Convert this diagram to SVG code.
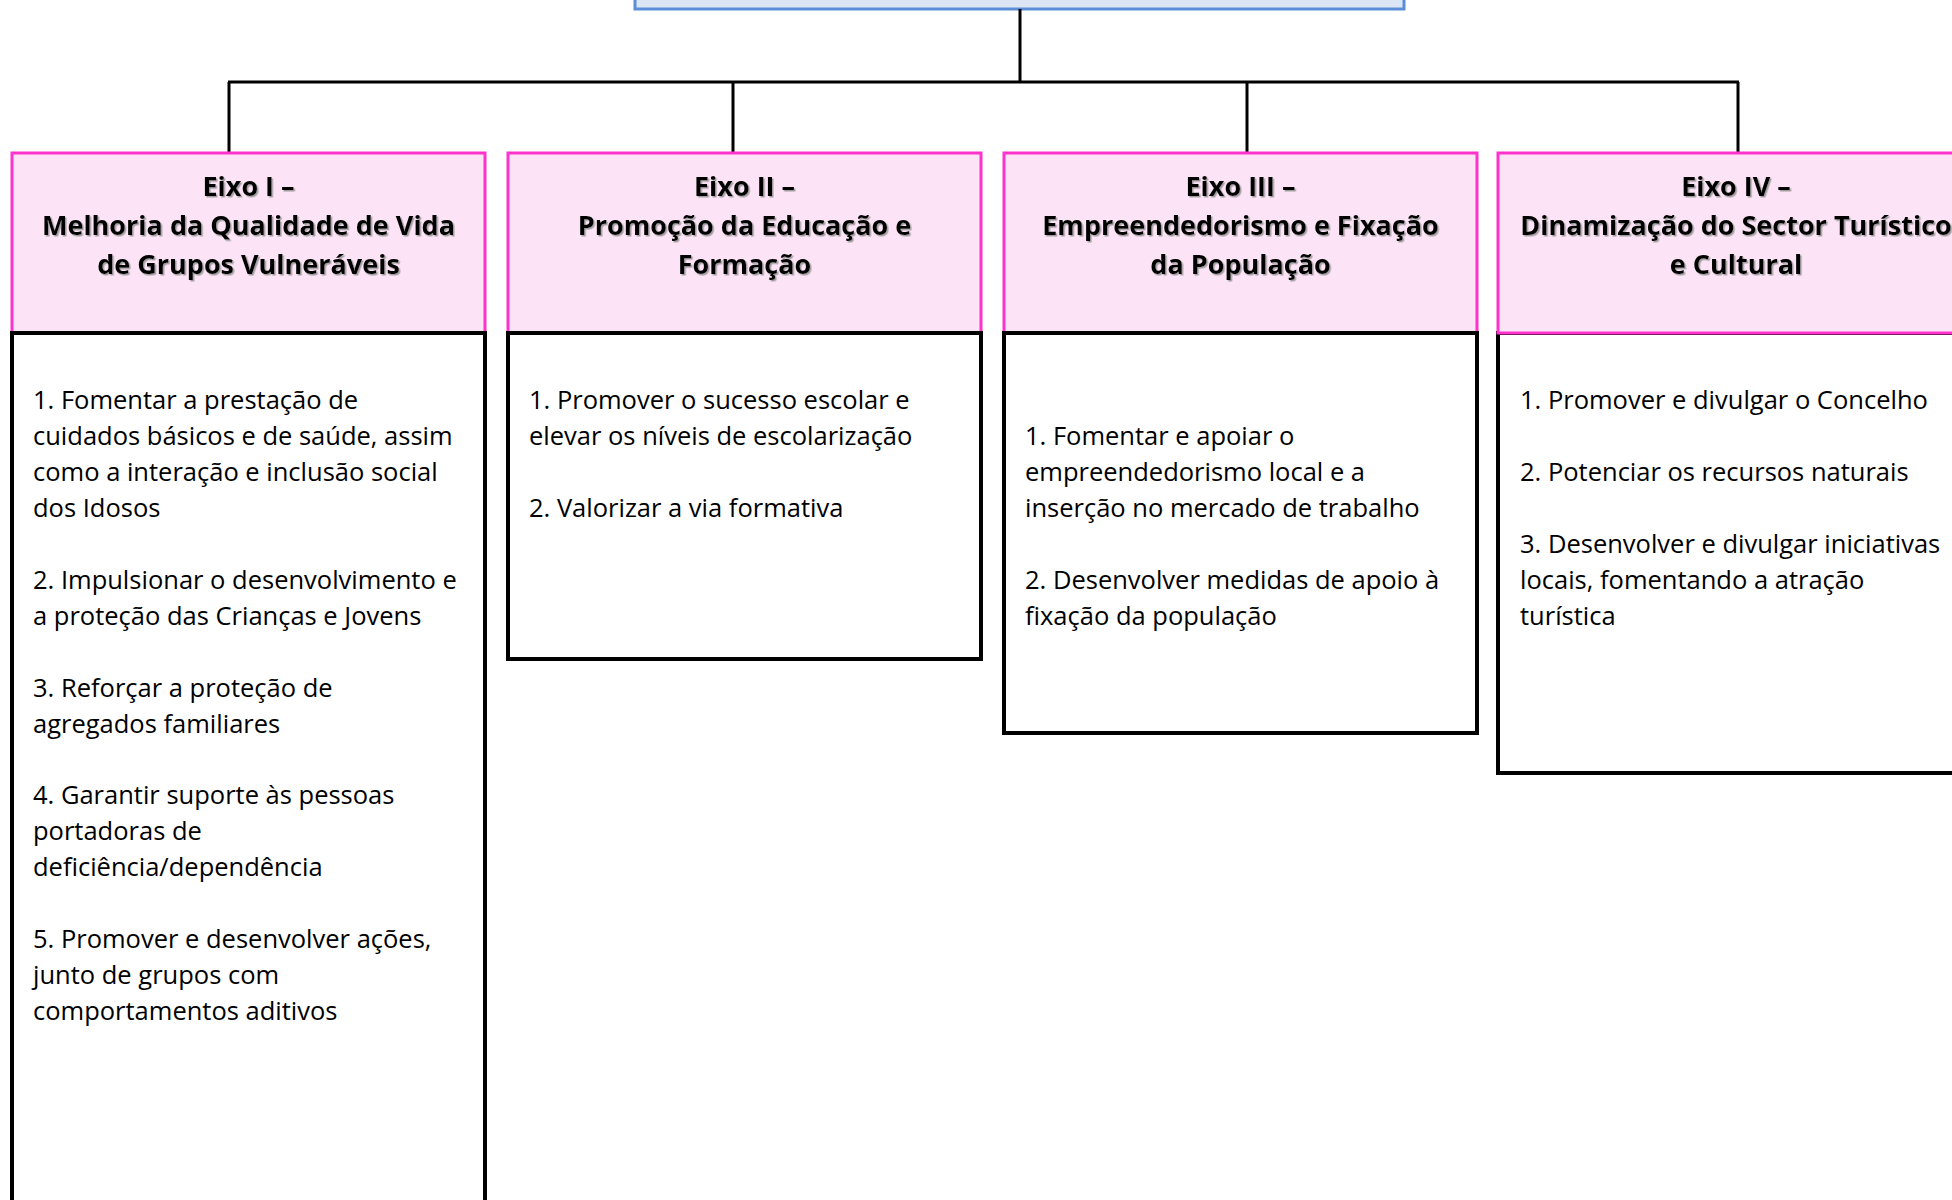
<svg xmlns="http://www.w3.org/2000/svg" width="1952" height="1200" viewBox="0 0 1952 1200">
  <defs>
    <filter id="shadow" x="-5%" y="-20%" width="110%" height="140%">
      <feDropShadow dx="1.5" dy="1.5" stdDeviation="0.7" flood-color="#8a8a8a" flood-opacity="0.8"/>
    </filter>
  </defs>
  <style>
    .top { fill: #DBE5F3; stroke: #5B8ED6; stroke-width: 3; }
    .head { fill: #FCE4F6; stroke: #FF33CC; stroke-width: 3; }
    .body { fill: #FFFFFF; stroke: #000000; stroke-width: 4; }
    .conn { fill: none; stroke: #000000; stroke-width: 3; }
    .ht { font-family: "Open Sans", "Liberation Sans", sans-serif; font-weight: bold; font-size: 27px; fill: #000; text-anchor: middle; filter: url(#shadow); }
    .bt { font-family: "Open Sans", "Liberation Sans", sans-serif; font-size: 25.5px; fill: #000; }
  </style>

  <g id="root">
    <rect class="top" x="635" y="-60" width="769" height="69"/>
  </g>

  <g id="connectors">
    <line class="conn" x1="1020" y1="9" x2="1020" y2="82"/>
    <line class="conn" x1="228" y1="82" x2="1739" y2="82"/>
    <line class="conn" x1="229" y1="82" x2="229" y2="153"/>
    <line class="conn" x1="733" y1="82" x2="733" y2="153"/>
    <line class="conn" x1="1247" y1="82" x2="1247" y2="153"/>
    <line class="conn" x1="1738" y1="82" x2="1738" y2="153"/>
  </g>

  <g id="eixo1">
    <rect class="head" x="12" y="153" width="473" height="180"/>
    <rect class="body" x="12" y="333" width="473" height="900"/>
    <text class="ht"><tspan x="248.5" y="196">Eixo I –</tspan><tspan x="248.5" y="235">Melhoria da Qualidade de Vida</tspan><tspan x="248.5" y="274">de Grupos Vulneráveis</tspan></text>
    <text class="bt">
      <tspan x="33" y="409">1. Fomentar a prestação de</tspan>
      <tspan x="33" y="445">cuidados básicos e de saúde, assim</tspan>
      <tspan x="33" y="481">como a interação e inclusão social</tspan>
      <tspan x="33" y="517">dos Idosos</tspan>
      <tspan x="33" y="589">2. Impulsionar o desenvolvimento e</tspan>
      <tspan x="33" y="625">a proteção das Crianças e Jovens</tspan>
      <tspan x="33" y="697">3. Reforçar a proteção de</tspan>
      <tspan x="33" y="733">agregados familiares</tspan>
      <tspan x="33" y="804">4. Garantir suporte às pessoas</tspan>
      <tspan x="33" y="840">portadoras de</tspan>
      <tspan x="33" y="876">deficiência/dependência</tspan>
      <tspan x="33" y="948">5. Promover e desenvolver ações,</tspan>
      <tspan x="33" y="984">junto de grupos com</tspan>
      <tspan x="33" y="1020">comportamentos aditivos</tspan>
    </text>
  </g>

  <g id="eixo2">
    <rect class="head" x="508" y="153" width="473" height="180"/>
    <rect class="body" x="508" y="333" width="473" height="326"/>
    <text class="ht"><tspan x="744.5" y="196">Eixo II –</tspan><tspan x="744.5" y="235">Promoção da Educação e</tspan><tspan x="744.5" y="274">Formação</tspan></text>
    <text class="bt">
      <tspan x="529" y="409">1. Promover o sucesso escolar e</tspan>
      <tspan x="529" y="445">elevar os níveis de escolarização</tspan>
      <tspan x="529" y="517">2. Valorizar a via formativa</tspan>
    </text>
  </g>

  <g id="eixo3">
    <rect class="head" x="1004" y="153" width="473" height="180"/>
    <rect class="body" x="1004" y="333" width="473" height="400"/>
    <text class="ht"><tspan x="1240.5" y="196">Eixo III –</tspan><tspan x="1240.5" y="235">Empreendedorismo e Fixação</tspan><tspan x="1240.5" y="274">da População</tspan></text>
    <text class="bt">
      <tspan x="1025" y="445">1. Fomentar e apoiar o</tspan>
      <tspan x="1025" y="481">empreendedorismo local e a</tspan>
      <tspan x="1025" y="517">inserção no mercado de trabalho</tspan>
      <tspan x="1025" y="589">2. Desenvolver medidas de apoio à</tspan>
      <tspan x="1025" y="625">fixação da população</tspan>
    </text>
  </g>

  <g id="eixo4">
    <rect class="body" x="1498" y="333" width="473" height="440"/>
    <rect class="head" x="1498" y="153" width="473" height="180"/>
    <text class="ht"><tspan x="1736" y="196">Eixo IV –</tspan><tspan x="1736" y="235">Dinamização do Sector Turístico</tspan><tspan x="1736" y="274">e Cultural</tspan></text>
    <text class="bt">
      <tspan x="1520" y="409">1. Promover e divulgar o Concelho</tspan>
      <tspan x="1520" y="481">2. Potenciar os recursos naturais</tspan>
      <tspan x="1520" y="553">3. Desenvolver e divulgar iniciativas</tspan>
      <tspan x="1520" y="589">locais, fomentando a atração</tspan>
      <tspan x="1520" y="625">turística</tspan>
    </text>
  </g>
</svg>
